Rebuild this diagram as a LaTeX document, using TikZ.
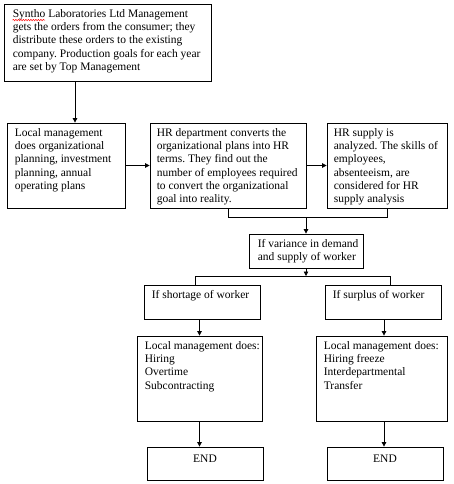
\documentclass[tikz,border=0pt]{standalone}
\usepackage{fontspec}
\setmainfont{Liberation Serif}
\usetikzlibrary{arrows.meta,fit,decorations.pathmorphing}
\begin{document}
\frenchspacing
\begin{tikzpicture}[x=1pt,y=-1pt,
  box/.style={draw, line width=0.8pt, inner sep=0pt},
  txt/.style={anchor=north west, inner sep=0pt, align=left, font=\fontsize{11.5}{13.1}\selectfont},
  endtxt/.style={inner sep=0pt, font=\fontsize{11.5}{13.1}\selectfont},
  ln/.style={line width=0.8pt},
  arr/.style={line width=0.8pt, -{Triangle[length=4.5pt,width=4.5pt]}},
  squiggle/.style={red, line width=0.5pt, decorate, decoration={snake, amplitude=0.7pt, segment length=2.5pt}}]
\useasboundingbox (0,0) rectangle (454,484);
% boxes
\node[box, fit={(4,4) (211,81)}] (b1) {};
\node[box, fit={(7,123) (125,208)}] (b2) {};
\node[box, fit={(150,123) (306,208)}] (b3) {};
\node[box, fit={(327,123) (447,208)}] (b4) {};
\node[box, fit={(249,234) (363,268)}] (b5) {};
\node[box, fit={(144,285) (260,319)}] (b6) {};
\node[box, fit={(325,285) (441,319)}] (b7) {};
\node[box, fit={(137,336) (262,421)}] (b8) {};
\node[box, fit={(316,336) (447,421)}] (b9) {};
\node[box, fit={(147,447) (263,480)}] (b10) {};
\node[box, fit={(327,447) (443,480)}] (b11) {};
% texts
\node[txt] (t1) at ([shift={(9pt,-6pt)}]b1.north west) {Syntho Laboratories Ltd Management\\gets the orders from the consumer; they\\distribute these orders to the existing\\company. Production goals for each year\\are set by Top Management};
\draw[squiggle] ([shift={(0pt,-10.5pt)}]t1.north west) -- ++(32.5,0);
\node[txt] (t2) at ([shift={(8pt,-6pt)}]b2.north west) {Local management\\does organizational\\planning, investment\\planning, annual\\operating plans};
\node[txt] (t3) at ([shift={(7pt,-6pt)}]b3.north west) {HR department converts the\\organizational plans into HR\\terms. They find out the\\number of employees required\\to convert the organizational\\goal into reality.};
\node[txt] (t4) at ([shift={(7pt,-6pt)}]b4.north west) {HR supply is\\analyzed. The skills of\\employees,\\absenteeism, are\\considered for HR\\supply analysis};
\node[txt] (t5) at ([shift={(9pt,-5.5pt)}]b5.north west) {If variance in demand\\and supply of worker};
\node[txt] (t6) at ([shift={(8pt,-6pt)}]b6.north west) {If shortage of worker};
\node[txt] (t7) at ([shift={(8pt,-6pt)}]b7.north west) {If surplus of worker};
\node[txt] (t8) at ([shift={(8pt,-6pt)}]b8.north west) {Local management does:\\Hiring\\Overtime\\Subcontracting};
\node[txt] (t9) at ([shift={(8pt,-6pt)}]b9.north west) {Local management does:\\Hiring freeze\\Interdepartmental\\Transfer};
\node[endtxt] (t10) at ([yshift=5pt]b10.center) {END};
\node[endtxt] (t11) at ([yshift=5pt]b11.center) {END};
% connectors
\coordinate (c1) at (75,0);
\draw[arr] (b1.south -| c1) -- (b2.north -| c1);
\draw[arr] (b2.east) -- (b3.west);
\draw[arr] (b3.east) -- (b4.west);
\draw[ln] (b3.south) -- ++(0,9) coordinate (j0) -| (b4.south);
\coordinate (j1) at (b5.north |- j0);
\draw[arr] (j1) -- (b5.north);
\coordinate (j2) at (195,276);
\coordinate (j3) at (390,276);
\draw[arr] (b5.south) -- (b5.south |- j2);
\draw[ln] (b6.north -| j2) -- (j2) -- (j3) -- (b7.north -| j3);
\draw[arr] (b6.south -| b8.north) -- (b8.north);
\coordinate (c2) at (384,0);
\draw[arr] (b7.south -| c2) -- (b9.north -| c2);
\draw[arr] (b8.south -| b8.north) -- (b10.north -| b8.north);
\draw[arr] (b9.south -| c2) -- (b11.north -| c2);
\end{tikzpicture}
\end{document}
